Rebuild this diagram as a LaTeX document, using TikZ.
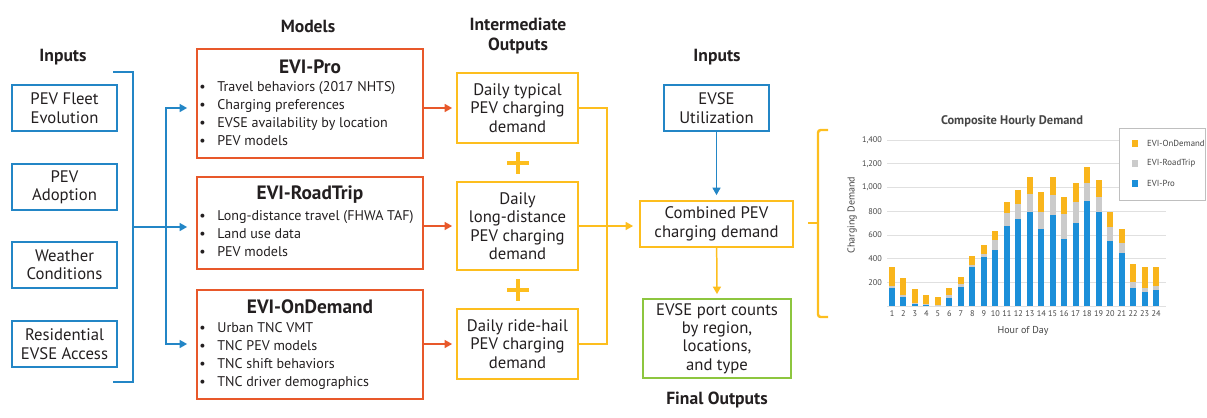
\documentclass[tikz,border=0pt]{standalone}
\usepackage{fontspec}
\setmainfont{PT Sans}
\usetikzlibrary{positioning,arrows.meta,calc}

\definecolor{inblue}{HTML}{2386C6}
\definecolor{modorange}{HTML}{E8582A}
\definecolor{midyellow}{HTML}{FDBE1E}
\definecolor{outgreen}{HTML}{8DC63F}
\definecolor{barblue}{HTML}{1B8FD9}
\definecolor{baryellow}{HTML}{F9B51C}
\definecolor{bargray}{HTML}{CBCBCB}
\definecolor{txt}{HTML}{231F20}
\definecolor{charttxt}{HTML}{454545}
\newcommand{\itm}{\makebox[3.6mm][l]{\textbullet}}

\begin{document}
\begin{tikzpicture}[x=0.2mm, y=-0.2mm,
  every node/.style={text=txt},
  hdr/.style={font={\fontsize{10}{11}\selectfont\bfseries}, align=center},
  inbox/.style={draw=inblue, line width=1pt, minimum width=21mm, minimum height=9.2mm, align=center, inner sep=0pt, font={\fontsize{9.5}{10.5}\selectfont}},
  modbox/.style={draw=modorange, line width=1pt, minimum width=45.2mm},
  modtitle/.style={font={\fontsize{11}{13}\selectfont\bfseries}},
  modlist/.style={anchor=north west, align=left, inner sep=0pt, font={\fontsize{8}{10.2}\selectfont}},
  midbox/.style={draw=midyellow, line width=1pt, minimum width=24.2mm, align=center, inner sep=0pt, font={\fontsize{9.5}{10.5}\selectfont}},
  outbox/.style={draw=outgreen, line width=1pt, minimum width=29.6mm, minimum height=15.8mm, align=center, inner sep=0pt, font={\fontsize{9.5}{10.5}\selectfont}},
  blueline/.style={draw=inblue, line width=0.85pt},
  bluearrow/.style={blueline, -{Triangle[length=1.5mm,width=1.6mm]}},
  orangearrow/.style={draw=modorange, line width=0.85pt, -{Triangle[length=1.5mm,width=1.6mm]}},
  yellowline/.style={draw=midyellow, line width=0.85pt},
  yellowarrow/.style={yellowline, -{Triangle[length=1.5mm,width=1.6mm]}},
  plusline/.style={draw=midyellow, line width=2.2pt},
  brace/.style={draw=midyellow, line width=1.4pt, rounded corners=1.5pt},
  charttitle/.style={text=charttxt, font={\fontsize{7.1}{8}\selectfont\bfseries}},
  axlabel/.style={text=charttxt, font={\fontsize{5.7}{7}\selectfont}},
  ticklabel/.style={text=charttxt, font={\fontsize{4.7}{6}\selectfont}},
  legendlabel/.style={text=charttxt, anchor=west, font={\fontsize{5}{6}\selectfont}},
  grid/.style={draw=black!12, line width=0.4pt}
]
\useasboundingbox (0,0) rectangle (1207,417);

% inputs
\node[hdr] (inhdr) at (63,57) {Inputs};
\node[inbox] (fleet) at (64.5,108) {PEV Fleet\\Evolution};
\node[inbox] (adopt) at (64.5,187) {PEV\\Adoption};
\node[inbox] (weather) at (64.5,265) {Weather\\Conditions};
\node[inbox] (resid) at (64.5,344) {Residential\\EVSE Access};

% models
\node[hdr] (modhdr) at (308,26) {Models};
\node[modbox, minimum height=21.8mm] (pro) at (310,103.5) {};
\node[modtitle] (protitle) at (310,67) {EVI-Pro};
\node[modlist] (prolist) at (199,81) {\itm Travel behaviors (2017 NHTS)\\\itm Charging preferences\\\itm EVSE availability by location\\\itm PEV models};
\node[modbox, minimum height=18.4mm] (rt) at (310,223) {};
\node[modtitle] (rttitle) at (310,195) {EVI-RoadTrip};
\node[modlist] (rtlist) at (199,210) {\itm Long-distance travel (FHWA TAF)\\\itm Land use data\\\itm PEV models};
\node[modbox, minimum height=21.8mm] (od) at (310,344.5) {};
\node[modtitle] (odtitle) at (310,307) {EVI-OnDemand};
\node[modlist] (odlist) at (199,322) {\itm Urban TNC VMT\\\itm TNC PEV models\\\itm TNC shift behaviors\\\itm TNC driver demographics};

% bracket from inputs to models
\coordinate (brmid) at (133,227);
\coordinate (split) at (166,227);
\draw[blueline] (113,72) -- (133,72) -- (133,382) -- (113,382);
\draw[bluearrow] (brmid) -- ($(rt.west |- brmid)+(-9,0)$);
\draw[bluearrow] (split) |- ($(pro.west)+(-9,4.5)$);
\draw[bluearrow] (split) |- ($(od.west)+(-9,-0.5)$);

% intermediate outputs
\node[hdr] (midhdr) at (518,36) {Intermediate\\Outputs};
\node[midbox, minimum height=14mm] (typ) at (517.5,108) {Daily typical\\PEV charging\\demand};
\node[midbox, minimum height=17.6mm] (long) at (517.5,226) {Daily\\long-distance\\PEV charging\\demand};
\node[midbox, minimum height=14mm] (hail) at (517.5,344) {Daily ride-hail\\PEV charging\\demand};
\draw[plusline] (507,163) -- (529,163) (518,152) -- (518,174);
\draw[plusline] (507,290) -- (529,290) (518,279) -- (518,301);

\draw[orangearrow] (pro.east |- typ.west) -- ($(typ.west)+(-4,0)$);
\draw[orangearrow] (rt.east |- long.west) -- ($(long.west)+(-4,0)$);
\draw[orangearrow] (od.east |- hail.west) -- ($(hail.west)+(-4,0)$);

% right column
\node[hdr] (in2hdr) at (717,57) {Inputs};
\node[inbox] (util) at (716.5,108) {EVSE\\Utilization};
\node[midbox, minimum width=30.6mm, minimum height=9.2mm] (comb) at (716.5,224) {Combined PEV\\charging demand};
\node[outbox] (port) at (717,338.5) {EVSE port counts\\by region,\\locations,\\and type};
\node[hdr] (finhdr) at (717,400) {Final Outputs};

\coordinate (join) at (607,226);
\draw[yellowline] (typ.east) -| (join) |- (hail.east);
\draw[yellowarrow] (long.east) -- ($(comb.west |- long.east)+(-6,0)$);
\draw[bluearrow] (util) -- ($(comb.north)+(0,-5)$);
\draw[yellowarrow] (comb) -- ($(port.north)+(0,-4)$);

\draw[brace] (828,130) -- (818,130) -- (818,317) -- (828,317);
\draw[brace] (818,223) -- (808,223);

% chart
\node[charttitle] (ctitle) at (1012,121) {Composite Hourly Demand};
\foreach \v/\lab in {0/{},200/200,400/400,600/600,800/800,1000/{1,000},1200/{1,200},1400/{1,400}} {
  \draw[grid] (887,{306-\v*0.11857}) -- (1166,{306-\v*0.11857});
  \node[ticklabel, anchor=east, inner sep=1pt] (t\v) at (884,{306-\v*0.11857}) {\lab};
}
\foreach \h/\p/\r/\t in {1/150/170/330, 2/75/90/240, 3/20/25/140, 4/10/15/95, 5/5/10/75, 6/70/90/150,
  7/160/185/245, 8/325/350/420, 9/415/440/518, 10/475/558/632, 11/675/788/877, 12/735/858/978,
  13/795/945/1092, 14/652/797/958, 15/765/937/1092, 16/567/773/918, 17/698/875/1040, 18/888/1035/1175,
  19/793/917/1066, 20/548/664/797, 21/450/530/650, 22/150/205/355, 23/120/150/332, 24/135/170/332} {
  \fill[barblue] ({892+(\h-1)*11.48-3},306) rectangle ({892+(\h-1)*11.48+3},{306-\p*0.11857});
  \fill[bargray] ({892+(\h-1)*11.48-3},{306-\p*0.11857}) rectangle ({892+(\h-1)*11.48+3},{306-\r*0.11857});
  \fill[baryellow] ({892+(\h-1)*11.48-3},{306-\r*0.11857}) rectangle ({892+(\h-1)*11.48+3},{306-\t*0.11857});
  \node[ticklabel] (h\h) at ({892+(\h-1)*11.48},314) {\h};
}
\node[axlabel, rotate=90] (ylab) at (852,215) {Charging Demand};
\node[axlabel] (xlab) at (1023,331) {Hour of Day};

% legend
\draw[draw=black!25, fill=white, line width=0.4pt] (1119,128) rectangle (1205,200);
\fill[baryellow] (1132,140) rectangle (1138,147);
\fill[bargray] (1132,160) rectangle (1138,167);
\fill[barblue] (1132,180) rectangle (1138,187);
\node[legendlabel] (lgod) at (1141,143.5) {EVI-OnDemand};
\node[legendlabel] (lgrt) at (1141,163.5) {EVI-RoadTrip};
\node[legendlabel] (lgpro) at (1141,183.5) {EVI-Pro};
\end{tikzpicture}
\end{document}
